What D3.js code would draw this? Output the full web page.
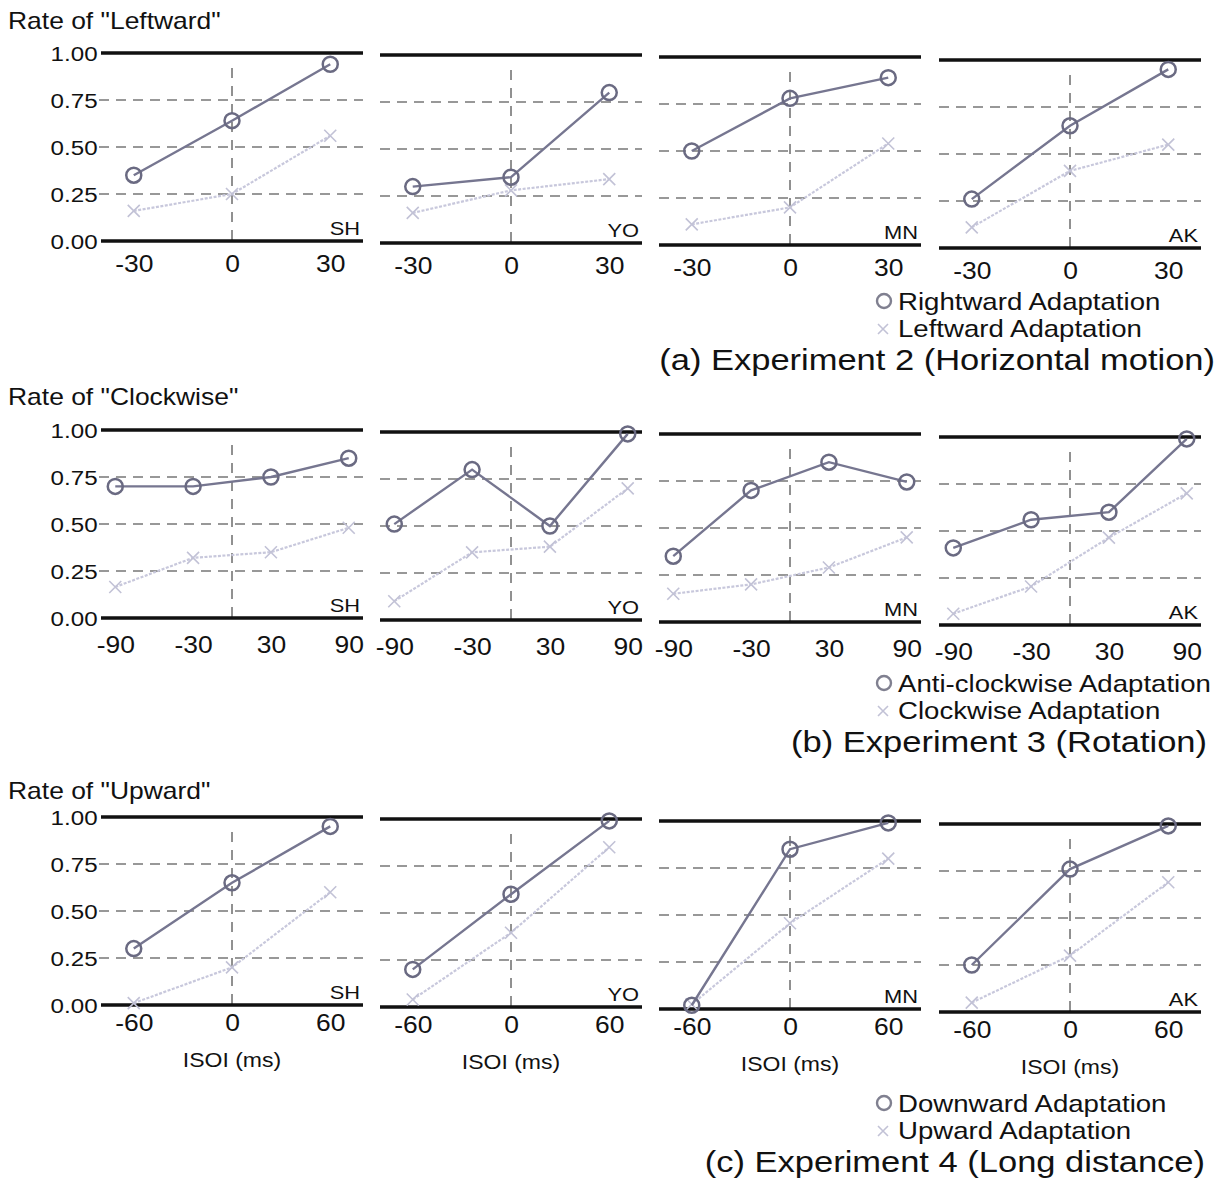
<!DOCTYPE html>
<html>
<head>
<meta charset="utf-8">
<script src="https://cdn.jsdelivr.net/npm/d3@7"></script>
<style>
  body { margin: 0; background: #fff; }
  text { font-family: "Liberation Sans", Arial, sans-serif; fill: #111; }
</style>
</head>
<body>
<svg id="fig" width="1226" height="1181"></svg>
<script>
// ---- data ----
const subjects = ["SH", "YO", "MN", "AK"];

// (a) Experiment 2, horizontal motion
const isoiA = [-30, 0, 30];
const rightward = [[0.35, 0.64, 0.94], [0.30, 0.35, 0.80], [0.50, 0.78, 0.89], [0.26, 0.65, 0.95]];
const leftward  = [[0.16, 0.25, 0.56], [0.16, 0.28, 0.34], [0.11, 0.20, 0.54], [0.11, 0.41, 0.55]];

// (b) Experiment 3, rotation
const isoiB = [-90, -30, 30, 90];
const anticlockwise = [[0.70, 0.70, 0.75, 0.85], [0.51, 0.80, 0.50, 0.99], [0.35, 0.70, 0.85, 0.745], [0.41, 0.56, 0.60, 0.99]];
const clockwise     = [[0.165, 0.32, 0.35, 0.48], [0.10, 0.36, 0.39, 0.70], [0.15, 0.20, 0.29, 0.45], [0.06, 0.205, 0.465, 0.70]];

// (c) Experiment 4, long distance
const isoiC = [-60, 0, 60];
const downward = [[0.30, 0.65, 0.95], [0.20, 0.60, 0.99], [0.02, 0.85, 0.99], [0.25, 0.76, 0.99]];
const upward   = [[0.01, 0.20, 0.60], [0.04, 0.395, 0.85], [0.025, 0.456, 0.80], [0.05, 0.30, 0.69]];

const yTicks = [1, 0.75, 0.5, 0.25, 0];
const yLabels = ["Rate of \"Leftward\"", "Rate of \"Clockwise\"", "Rate of \"Upward\""];
const legendA = ["Rightward Adaptation", "Leftward Adaptation"];
const legendB = ["Anti-clockwise Adaptation", "Clockwise Adaptation"];
const legendC = ["Downward Adaptation", "Upward Adaptation"];
const titles = ["(a) Experiment 2 (Horizontal motion)", "(b) Experiment 3 (Rotation)", "(c) Experiment 4 (Long distance)"];

// ---- layout ----
const SX = 1.15;  // scan is a bit stretched horizontally
const rows = [
  {x: isoiA, dom: 40,  dark: rightward,     light: leftward,  legend: legendA, top: 53,  tickDy: 31, labY: 29,  legY: [310, 337],  titleY: 370,  titleX: 1215, isoi: false},
  {x: isoiB, dom: 101, dark: anticlockwise, light: clockwise, legend: legendB, top: 430, tickDy: 35, labY: 405, legY: [692, 719],  titleY: 752,  titleX: 1207, isoi: false},
  {x: isoiC, dom: 80,  dark: downward,      light: upward,    legend: legendC, top: 817, tickDy: 26, labY: 799, legY: [1112, 1139], titleY: 1172, titleX: 1205, isoi: true}
];
const colLeft = [101, 380, 659, 939];
const colDy = [0, 2, 4, 7];
const panelW = 262, panelH = 188;

const darkLine = "#767690", darkMark = "#6a6a82";
const lightLine = "#c8c8dc", lightMark = "#c2c2d6";

const svg = d3.select("#fig");

const txt = (sel, x, y, s, size, anchor) =>
  sel.append("text")
    .attr("transform", `translate(${x},${y}) scale(${SX},1)`)
    .attr("text-anchor", anchor || "start")
    .attr("font-size", size)
    .text(s);

const cross = (sel, cx, cy, r, color) => {
  sel.append("path")
    .attr("d", `M${cx - r},${cy - r}L${cx + r},${cy + r}M${cx - r},${cy + r}L${cx + r},${cy - r}`)
    .attr("stroke", color).attr("stroke-width", 1.6).attr("fill", "none");
};

rows.forEach((row, ri) => {
  txt(svg, 8, row.labY, yLabels[ri], 23);

  subjects.forEach((subj, ci) => {
    const g = svg.append("g")
      .attr("transform", `translate(${colLeft[ci]},${row.top + colDy[ci]})`);

    const x = d3.scaleLinear().domain([-row.dom, row.dom]).range([0, panelW]);
    const y = d3.scaleLinear().domain([0, 1]).range([panelH, 0]);

    // dashed grid at 0.25 / 0.5 / 0.75
    g.selectAll(".grid")
      .data(yTicks.filter(t => t > 0 && t < 1))
      .enter().append("line")
      .attr("x1", ci === 0 ? -2 : 0).attr("x2", panelW)
      .attr("y1", d => y(d)).attr("y2", d => y(d))
      .attr("stroke", "#333").attr("stroke-width", 1.2)
      .attr("stroke-dasharray", "10,7");

    // dashed line at ISOI = 0
    g.append("line")
      .attr("x1", x(0)).attr("x2", x(0))
      .attr("y1", 15).attr("y2", panelH)
      .attr("stroke", "#222").attr("stroke-width", 1)
      .attr("stroke-dasharray", "10,8");

    // thick lines at 0 and 1
    g.selectAll(".edge")
      .data([0, 1])
      .enter().append("line")
      .attr("x1", 0).attr("x2", panelW)
      .attr("y1", d => y(d)).attr("y2", d => y(d))
      .attr("stroke", "#111").attr("stroke-width", 3.5);

    // x tick labels (plain hyphen, like the original)
    const xAxis = g.append("g")
      .attr("transform", `translate(0,${panelH})`)
      .call(d3.axisBottom(x).tickValues(row.x).tickSize(0).tickFormat(d => String(d)));
    xAxis.select(".domain").remove();
    xAxis.selectAll("text")
      .attr("y", row.tickDy).attr("dy", 0)
      .attr("font-size", 23).attr("font-family", null).attr("fill", "#111")
      .attr("transform", `scale(${SX},1)`);

    // y tick labels on first column
    if (ci === 0) {
      const yAxis = g.append("g")
        .call(d3.axisLeft(y).tickValues(yTicks).tickSize(0).tickFormat(d3.format(".2f")));
      yAxis.select(".domain").remove();
      yAxis.selectAll("text")
        .attr("x", -3).attr("dy", "0.36em")
        .attr("font-size", 21).attr("font-family", null).attr("fill", "#111")
        .attr("transform", `scale(${SX},1)`);
    }

    // light series (crosses)
    const lightPts = row.x.map((v, i) => [v, row.light[ci][i]]);
    g.append("path")
      .datum(lightPts)
      .attr("d", d3.line().x(d => x(d[0])).y(d => y(d[1])))
      .attr("fill", "none").attr("stroke", lightLine).attr("stroke-width", 2.2)
      .attr("stroke-dasharray", "3,1.5");
    lightPts.forEach(d => cross(g, x(d[0]), y(d[1]), 6, lightMark));

    // dark series (circles)
    const darkPts = row.x.map((v, i) => [v, row.dark[ci][i]]);
    g.append("path")
      .datum(darkPts)
      .attr("d", d3.line().x(d => x(d[0])).y(d => y(d[1])))
      .attr("fill", "none").attr("stroke", darkLine).attr("stroke-width", 2.4);
    g.selectAll(".pt")
      .data(darkPts)
      .enter().append("circle")
      .attr("cx", d => x(d[0])).attr("cy", d => y(d[1]))
      .attr("r", 7.5)
      .attr("fill", "none").attr("stroke", darkMark).attr("stroke-width", 2.5);

    // subject label
    txt(g, panelW - 3, panelH - 6, subj, 19, "end");

    if (row.isoi) txt(g, x(0), panelH + 62, "ISOI (ms)", 20, "middle");
  });

  // legend
  svg.append("circle")
    .attr("cx", 884).attr("cy", row.legY[0] - 9).attr("r", 7)
    .attr("fill", "none").attr("stroke", "#808090").attr("stroke-width", 2.4);
  txt(svg, 898, row.legY[0], row.legend[0], 24);
  cross(svg, 883, row.legY[1] - 8, 5, lightMark);
  txt(svg, 898, row.legY[1], row.legend[1], 24);

  txt(svg, row.titleX, row.titleY, titles[ri], 30, "end");
});
</script>
</body>
</html>
